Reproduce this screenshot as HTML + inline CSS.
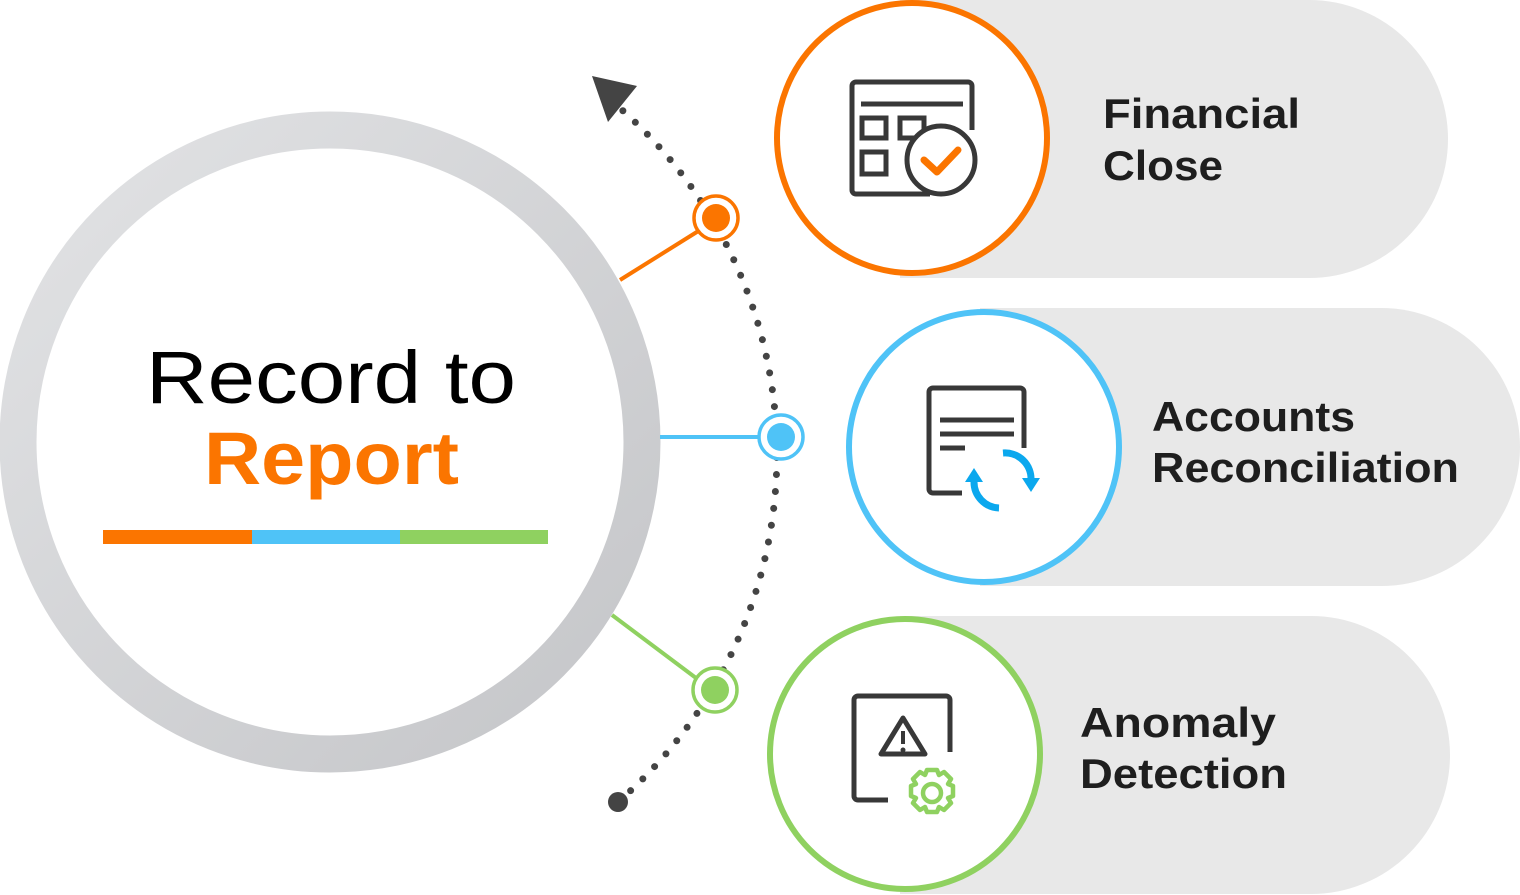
<!DOCTYPE html>
<html><head><meta charset="utf-8"><style>html,body{margin:0;padding:0;background:#fff}svg{display:block}</style></head>
<body>
<svg width="1520" height="895" viewBox="0 0 1520 895" xmlns="http://www.w3.org/2000/svg" font-family="Liberation Sans, sans-serif">
<defs>
<linearGradient id="rg" x1="0" y1="0" x2="1" y2="1">
<stop offset="0" stop-color="#e2e3e5"/><stop offset="1" stop-color="#c4c5c8"/>
</linearGradient>
</defs>
<path d="M900 0 H1309 A139 139 0 0 1 1309 278 H900 Z" fill="#e8e8e8"/>
<path d="M980 308 H1381 A139 139 0 0 1 1381 586 H980 Z" fill="#e8e8e8"/>
<path d="M900 616 H1311 A139 139 0 0 1 1311 894 H900 Z" fill="#e8e8e8"/>
<circle cx="912" cy="138" r="135" fill="#fff" stroke="#fb7500" stroke-width="6"/>
<circle cx="984" cy="447" r="135" fill="#fff" stroke="#4fc3f7" stroke-width="6"/>
<circle cx="905" cy="754" r="135" fill="#fff" stroke="#8fd160" stroke-width="6"/>
<circle cx="330" cy="442" r="312" fill="#fff" stroke="url(#rg)" stroke-width="37"/>
<line x1="620" y1="280" x2="700" y2="230" stroke="#fb7500" stroke-width="4"/>
<line x1="660" y1="437" x2="760" y2="437" stroke="#4fc3f7" stroke-width="4"/>
<line x1="612" y1="615" x2="696" y2="678" stroke="#8fd160" stroke-width="4"/>
<path d="M618 802 A460 460 0 0 0 622 110" fill="none" stroke="#444" stroke-width="7" stroke-linecap="round" stroke-dasharray="0 17"/>
<polygon points="592,76 637,86 608,122" fill="#444"/>
<circle cx="618" cy="802" r="10" fill="#444"/>
<circle cx="716" cy="218" r="22" fill="#fff" stroke="#fb7500" stroke-width="3.5"/>
<circle cx="716" cy="218" r="14" fill="#fb7500"/>
<circle cx="781" cy="437" r="22" fill="#fff" stroke="#4fc3f7" stroke-width="3.5"/>
<circle cx="781" cy="437" r="14" fill="#4fc3f7"/>
<circle cx="715" cy="690" r="22" fill="#fff" stroke="#8fd160" stroke-width="3.5"/>
<circle cx="715" cy="690" r="14" fill="#8fd160"/>
<text x="146" y="403" font-size="74" fill="#000" textLength="370" lengthAdjust="spacingAndGlyphs">Record to</text>
<text x="204" y="484" font-size="74" font-weight="bold" fill="#fb7500" textLength="255" lengthAdjust="spacingAndGlyphs">Report</text>
<rect x="103" y="530" width="149" height="14" fill="#fb7500"/>
<rect x="252" y="530" width="148" height="14" fill="#4fc3f7"/>
<rect x="400" y="530" width="148" height="14" fill="#8fd160"/>
<g font-weight="bold" font-size="42" fill="#1e1e1e">
<text x="1103" y="128" textLength="197" lengthAdjust="spacingAndGlyphs">Financial</text>
<text x="1103" y="180" textLength="120" lengthAdjust="spacingAndGlyphs">Close</text>
<text x="1152" y="431" textLength="203" lengthAdjust="spacingAndGlyphs">Accounts</text>
<text x="1152" y="482" textLength="307" lengthAdjust="spacingAndGlyphs">Reconciliation</text>
<text x="1080" y="737" textLength="196" lengthAdjust="spacingAndGlyphs">Anomaly</text>
<text x="1080" y="788" textLength="207" lengthAdjust="spacingAndGlyphs">Detection</text>
</g>
<g fill="none" stroke="#383838" stroke-width="5">
<path d="M930 194 H856 a4 4 0 0 1 -4 -4 V86 a4 4 0 0 1 4 -4 H968 a4 4 0 0 1 4 4 V130"/>
<line x1="861" y1="104" x2="963" y2="104"/>
<rect x="862" y="118" width="24" height="20"/>
<rect x="900" y="118" width="24" height="20"/>
<rect x="862" y="152" width="24" height="22"/>
<circle cx="941" cy="160" r="34" fill="#fff"/>
</g>
<polyline points="924,160 937,172 958,150" fill="none" stroke="#fb7500" stroke-width="7" stroke-linecap="round" stroke-linejoin="round"/>
<g fill="none" stroke="#383838" stroke-width="5">
<path d="M962 493 H933 a4 4 0 0 1 -4 -4 V392 a4 4 0 0 1 4 -4 H1020 a4 4 0 0 1 4 4 V448"/>
<line x1="940" y1="420" x2="1014" y2="420"/>
<line x1="940" y1="434" x2="1014" y2="434"/>
<line x1="940" y1="448" x2="965" y2="448"/>
</g>
<g fill="none" stroke="#0ba8ee" stroke-width="7">
<path d="M1003 453 A26 26 0 0 1 1031 480"/>
<path d="M999 508 A26 26 0 0 1 974 482"/>
</g>
<polygon points="1022,478 1040,478 1031,492" fill="#0ba8ee"/>
<polygon points="965,482 983,482 974,468" fill="#0ba8ee"/>
<g fill="none" stroke="#383838" stroke-width="5">
<path d="M888 800 H858 a4 4 0 0 1 -4 -4 V700 a4 4 0 0 1 4 -4 H946 a4 4 0 0 1 4 4 V752"/>
<path d="M903 718 L925 754 H881 Z" stroke-linejoin="round"/>
</g>
<line x1="903" y1="731" x2="903" y2="744" stroke="#383838" stroke-width="4"/>
<circle cx="903" cy="750" r="2.5" fill="#383838"/>
<g fill="none" stroke="#8fd160" stroke-width="4.5">
<circle cx="932" cy="793" r="9"/>
<path d="M927 770 h10 l2 5 5 -3 7 7 -3 5 5 2 v10 l-5 2 3 5 -7 7 -5 -3 -2 5 h-10 l-2 -5 -5 3 -7 -7 3 -5 -5 -2 v-10 l5 -2 -3 -5 7 -7 5 3 z" stroke-linejoin="round"/>
</g>
</svg>
</body></html>
